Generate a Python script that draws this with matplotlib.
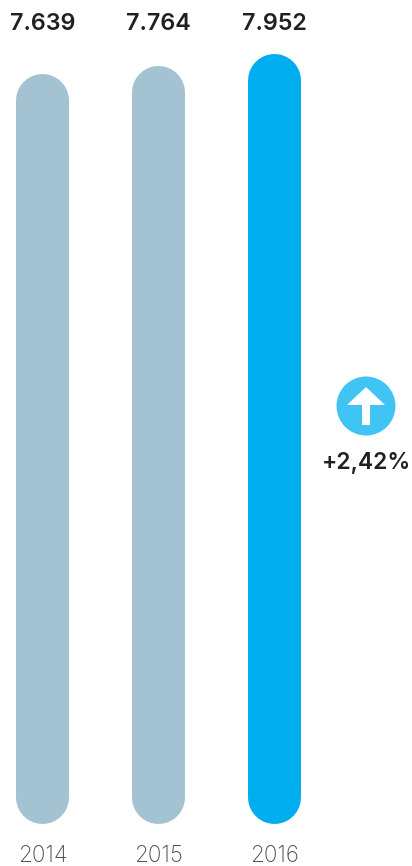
#!/usr/bin/env python3

import matplotlib
matplotlib.use('Agg')
from matplotlib import pyplot as plt
from matplotlib.patches import Circle, Polygon

years = ['2014', '2015', '2016']
values = [7639, 7764, 7952]
value_labels = ['7.639', '7.764', '7.952']
change_label = '+2,42%'

GREY_BLUE = '#a3c2d2'
BLUE = '#00aeef'
bar_colors = [GREY_BLUE, GREY_BLUE, BLUE]

W, H = 412, 866
DPI = 100
BAR_W = 53
# bars do not start at zero on the original, about 0.064 px per unit
PX_PER_UNIT = 20 / 313
BASE = values[2] - 770 / PX_PER_UNIT


def main():
    fig = plt.figure(figsize=(W / DPI, H / DPI), dpi=DPI)

    # y limits so that the baseline lands on pixel row 824
    ax = fig.add_axes([0, 0, 1, 1])
    ax.set_xlim(-41.5 / 116, (W - 41.5) / 116)
    ax.set_ylim(BASE - 43 / PX_PER_UNIT, BASE + 823 / PX_PER_UNIT)
    ax.axis('off')

    r = BAR_W / 2 / PX_PER_UNIT
    nudge = 1 / 116
    for i, v in enumerate(values):
        ax.plot([i, i], [BASE + r, v - r], color=bar_colors[i],
                lw=BAR_W * 72 / DPI, solid_capstyle='round')
        ax.text(i + nudge, BASE + (824 - 24.5) / PX_PER_UNIT, value_labels[i], ha='center',
                va='center', fontsize=16.8, fontweight='semibold', family='Inter', color='#231f20')
        ax.text(i + nudge, BASE - 33 / PX_PER_UNIT, years[i], ha='center', va='center',
                fontsize=16.2, fontweight='light', family='Inter', color='#4d4d4f')

    # pixel axes for the arrow badge
    ov = fig.add_axes([0, 0, 1, 1])
    ov.set_xlim(0, W)
    ov.set_ylim(H, 0)
    ov.axis('off')
    ov.patch.set_alpha(0)
    ov.add_patch(Circle((366, 406), 29.5, color='#40c4f4', lw=0))
    ov.add_patch(Polygon([(366, 387), (385, 405), (370, 405), (370, 425), (362, 425),
                          (362, 405), (347, 405)], closed=True, color='white', lw=0))
    ov.text(366.5, 462.5, change_label, ha='center', va='center', fontsize=16.4,
            fontweight='semibold', family='Inter', color='#231f20')

    fig.savefig('out.png', dpi=DPI)


if __name__ == '__main__':
    main()
